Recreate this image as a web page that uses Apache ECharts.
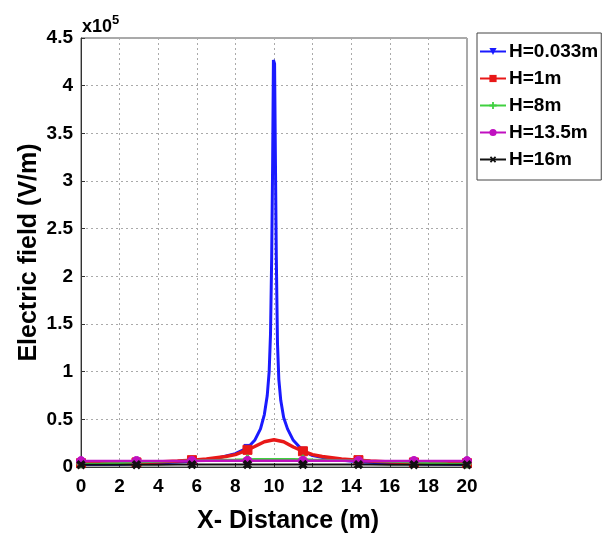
<!DOCTYPE html>
<html>
<head>
<meta charset="utf-8">
<script src="https://cdn.jsdelivr.net/npm/echarts@6/dist/echarts.min.js"></script>
<style>
html,body{margin:0;padding:0;background:#fff;}
#chart{width:604px;height:538px;}
</style>
</head>
<body>
<div id="chart"></div>
<script>
// ---- data (field values in V/m) ----
var xTicks = [0, 2, 4, 6, 8, 10, 12, 14, 16, 18, 20];
var yTicks = [0, 50000, 100000, 150000, 200000, 250000, 300000, 350000, 400000, 450000];
var markerX = [0, 2.875, 5.75, 8.625, 11.5, 14.375, 17.25, 20];

var seriesNames = ['H=0.033m', 'H=1m', 'H=8m', 'H=13.5m', 'H=16m'];

var xBlue = [0, 2, 2.875, 4, 5.75, 7, 8, 8.625, 9, 9.3, 9.5, 9.65, 9.75, 9.82, 9.88, 9.93, 9.97, 10.03, 10.07, 10.12, 10.18, 10.25, 10.35, 10.5, 10.7, 11, 11.5, 12, 13, 14.375, 16, 17.25, 18, 20];
var yBlue = [2500, 3000, 3500, 4200, 6000, 9000, 14000, 20000, 28000, 40000, 55000, 75000, 100000, 140000, 220000, 320000, 427000, 423000, 330000, 220000, 130000, 92000, 70000, 52000, 40000, 28000, 17000, 12000, 8000, 5500, 4000, 3500, 3200, 2500];

var xCommon = [0, 1, 2, 2.875, 4, 5, 5.75, 6.5, 7.5, 8, 8.625, 9, 9.5, 10, 10.5, 11, 11.5, 12, 12.5, 13.5, 14.375, 15, 16, 17.25, 18, 19, 20];
var yRed = [4000, 4200, 4500, 4800, 5300, 6200, 7200, 8500, 11000, 13000, 18000, 21500, 26500, 28500, 26500, 21000, 16500, 13000, 11000, 8500, 7200, 6200, 5300, 4800, 4500, 4200, 4000];
var yGreen = [3400, 3800, 4300, 4800, 5500, 6200, 6700, 7200, 7700, 7900, 8200, 8300, 8400, 8500, 8400, 8300, 8200, 7900, 7700, 7200, 6700, 6200, 5500, 4800, 4300, 3800, 3400];
var yMagenta = [6200, 6250, 6300, 6300, 6350, 6400, 6400, 6450, 6450, 6500, 6500, 6500, 6500, 6500, 6500, 6500, 6500, 6500, 6450, 6450, 6400, 6400, 6350, 6300, 6300, 6250, 6200];
var yBlack = [2300, 2300, 2400, 2400, 2400, 2500, 2500, 2500, 2500, 2500, 2600, 2600, 2600, 2600, 2600, 2600, 2600, 2500, 2500, 2500, 2500, 2500, 2400, 2400, 2400, 2300, 2300];

function pairs(xs, ys) { return xs.map(function (x, i) { return [x, ys[i]]; }); }
function isMarker(v) { return markerX.indexOf(v[0]) >= 0; }

var plusPath = 'path://M3,0h2v3h3v2h-3v3h-2v-3h-3v-2h3z';

var styles = [
  { color: '#1a1aff', width: 3, symbol: 'triangle', rot: 180, size: 7 },
  { color: '#e81818', width: 3.5, symbol: 'rect', rot: 0, size: 9 },
  { color: '#40d040', width: 2, symbol: plusPath, rot: 0, size: 8 },
  { color: '#c010c0', width: 2.5, symbol: 'circle', rot: 0, size: 9 },
  { color: '#111111', width: 2, symbol: plusPath, rot: 45, size: 9 }
];
var dataSets = [
  pairs(xBlue, yBlue),
  pairs(xCommon, yRed),
  pairs(xCommon, yGreen),
  pairs(xCommon, yMagenta),
  pairs(xCommon, yBlack)
];

var series = seriesNames.map(function (name, i) {
  var s = styles[i];
  return {
    name: name,
    type: 'line',
    data: dataSets[i],
    showSymbol: true,
    showAllSymbol: true,
    symbol: s.symbol,
    symbolRotate: s.rot,
    symbolSize: function (v) { return isMarker(v) ? s.size : 0; },
    lineStyle: { color: s.color, width: s.width },
    itemStyle: { color: s.color, borderColor: s.color },
    animation: false,
    z: 2 + i
  };
});

var chart = echarts.init(document.getElementById('chart'), null, { renderer: 'canvas' });
var boldFont = 'Liberation Sans';
chart.setOption({
  animation: false,
  backgroundColor: '#ffffff',
  grid: { left: 81, right: 137, top: 38, bottom: 71, show: true, borderColor: '#555', borderWidth: 1,
          containLabel: false, outerBoundsMode: 'none' },
  xAxis: {
    type: 'value', min: 0, max: 20, interval: 2,
    name: 'X- Distance (m)', nameLocation: 'middle', nameGap: 42, nameMoveOverlap: false,
    nameTextStyle: { fontFamily: boldFont, fontWeight: 'bold', fontSize: 25, color: '#000', padding: [0, 0, 0, 28] },
    axisLine: { show: true, lineStyle: { color: '#333', width: 1 } },
    axisTick: { show: true, inside: true, length: 4, lineStyle: { color: '#333' } },
    axisLabel: { margin: 10, fontFamily: boldFont, fontWeight: 'bold', fontSize: 19, color: '#000',
      formatter: function (v) { return xTicks.indexOf(v) >= 0 ? String(v) : ''; } },
    splitLine: { show: true, lineStyle: { color: '#aaa', type: [2, 3], width: 1 } }
  },
  yAxis: {
    type: 'value', min: 0, max: 450000, interval: 50000,
    name: 'Electric field (V/m)', nameLocation: 'middle', nameGap: 39, nameMoveOverlap: false,
    nameTextStyle: { fontFamily: boldFont, fontWeight: 'bold', fontSize: 25, color: '#000' },
    axisLine: { show: true, lineStyle: { color: '#333', width: 1 } },
    axisTick: { show: true, inside: true, length: 4, lineStyle: { color: '#333' } },
    axisLabel: { margin: 8, fontFamily: boldFont, fontWeight: 'bold', fontSize: 19, color: '#000',
      formatter: function (v) { return yTicks.indexOf(v) >= 0 ? String(v / 100000) : ''; } },
    splitLine: { show: true, lineStyle: { color: '#aaa', type: [2, 3], width: 1 } }
  },
  legend: {
    orient: 'vertical', left: 477, top: 33,
    padding: [8, 3, 10, 2], itemGap: 6, itemWidth: 26, itemHeight: 9,
    borderColor: '#444', borderWidth: 1, backgroundColor: '#fff',
    textStyle: { fontFamily: boldFont, fontWeight: 'bold', fontSize: 19, color: '#000', padding: [0, 0, 0, -2], lineHeight: 21 },
    data: seriesNames
  },
  graphic: [{
    type: 'text', left: 82, top: 14,
    style: {
      text: '{a|x10}{b|5}',
      rich: {
        a: { fontFamily: boldFont, fontWeight: 'bold', fontSize: 18, fill: '#000', verticalAlign: 'bottom', lineHeight: 22 },
        b: { fontFamily: boldFont, fontWeight: 'bold', fontSize: 13, fill: '#000', verticalAlign: 'top', lineHeight: 22 }
      }
    }
  }],
  series: series
});
</script>
</body>
</html>
